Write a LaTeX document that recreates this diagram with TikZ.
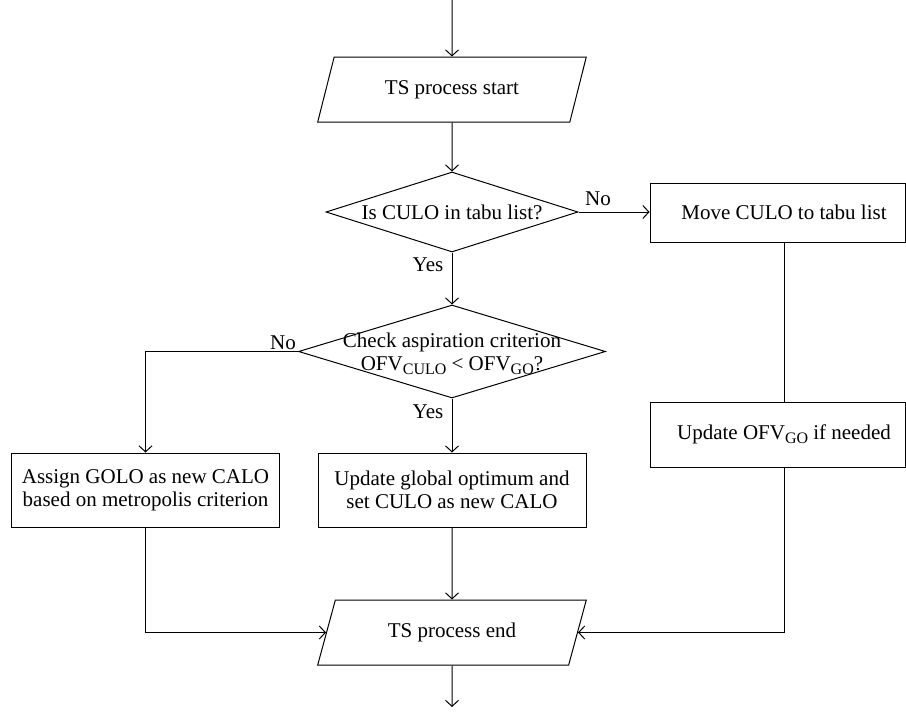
\documentclass[tikz,border=0pt]{standalone}
\usepackage{fontspec}
\setmainfont{Liberation Serif}
\usetikzlibrary{arrows.meta,shapes.geometric}
\newcommand\mysub[1]{\raisebox{-0.4ex}{\fontsize{16}{16}\selectfont #1}}
\begin{document}
\begin{tikzpicture}[x=1pt,y=-1pt,
  font=\fontsize{21}{23}\selectfont,
  line width=1pt,
  >={Straight Barb[length=6pt,width=13pt]},
  box/.style={draw, minimum width=268pt, minimum height=74pt, inner sep=0pt, align=center},
  io/.style={draw, trapezium, trapezium left angle=63, trapezium right angle=117,
    trapezium stretches=true, minimum width=269pt, minimum height=65pt, inner sep=0pt},
  dia/.style={draw, diamond, inner sep=0pt},
  lbl/.style={inner sep=1pt}]
\useasboundingbox (0,0) rectangle (906,712);
\coordinate (top) at (452,0);
\coordinate (bot) at (452,707);
\coordinate (rc) at (784,0);
\node[io] (ps) at (452,89.5) {TS process start};
\node[dia, minimum width=252pt, minimum height=80pt] (d1) at (452,212) {};
\node (t1) at (d1) {Is CULO in tabu list?};
\node[box, minimum width=255pt, minimum height=59pt] (mv) at (777.5,212.5) {\hspace*{13pt}Move CULO to tabu list};
\node[dia, minimum width=307pt, minimum height=93pt] (d2) at (452,351.5) {};
\node[align=center] (t2) at (452,354) {Check aspiration criterion\\OFV\mysub{CULO} < OFV\mysub{GO}?};
\node[box] (as) at (145.5,490) {Assign GOLO as new CALO\\based on metropolis criterion};
\node[box] (up) at (452,490) {Update global optimum and\\set CULO as new CALO};
\node[box, minimum width=255pt, minimum height=65pt] (uo) at (777.5,434.5) {\hspace*{13pt}Update OFV\mysub{GO} if needed};
\node[io] (pe) at (452,632.5) {TS process end};
\node[lbl] (no1) at (598,199) {No};
\node[lbl] (yes1) at (428,265) {Yes};
\node[lbl] (no2) at (283,343) {No};
\node[lbl] (yes2) at (428,412) {Yes};
\draw[->] (top) -- (ps.north);
\draw[->] (ps.south) -- (d1.north);
\draw[->] (d1.east) -- (mv.west |- d1.east);
\draw[->] (d1.south) -- (d2.north);
\draw[->] (d2.west) -| (as.north);
\draw[->] (d2.south) -- (up.north);
\draw (mv.south -| rc) -- (uo.north -| rc);
\draw[->] (as.south) |- (pe.west);
\draw[->] (up.south) -- (pe.north);
\draw[->] (uo.south -| rc) |- (pe.east);
\draw[->] (pe.south) -- (bot);
\end{tikzpicture}
\end{document}
